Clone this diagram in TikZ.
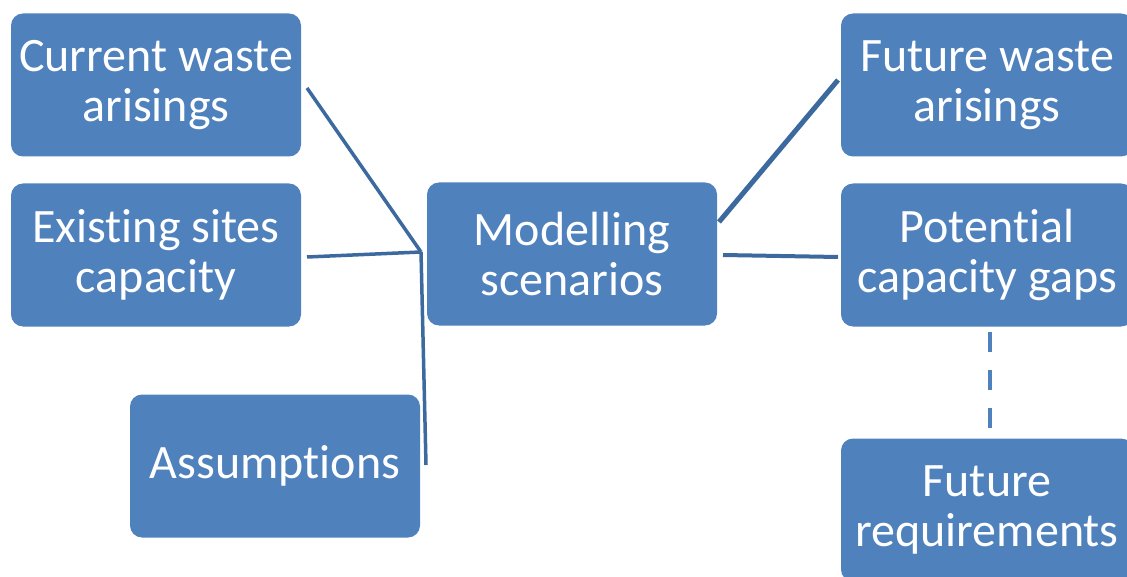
\documentclass[tikz,border=0pt]{standalone}
\usepackage{fontspec}
\setmainfont{Carlito}[Ligatures=NoCommon]
\usetikzlibrary{positioning}
\definecolor{boxblue}{HTML}{4F81BD}
\definecolor{lineblue}{HTML}{3C6A9F}

\begin{document}
\begin{tikzpicture}[x=1pt,y=-1pt,
      box/.style={fill=boxblue, rounded corners=12pt, text=white,
        minimum width=290pt, minimum height=143pt, align=center,
        font=\fontsize{48}{50}\selectfont, inner sep=0pt},
      link/.style={draw=lineblue, line width=3.5pt},
      ]
      \useasboundingbox (0,0) rectangle (1127,577);
      % left side inputs
      \node[box] (cur) at (156,85) {Current waste\\arisings};
      \node[box] (sites) at (156,255) {Existing sites\\capacity};
      \node[box] (assum) at (275,466) {Assumptions};
      % centre
      \node[box] (model) at (572,254) {Modelling\\scenarios};
      % right side outputs
      \node[box, minimum width=292pt] (fut) at (987,85) {Future waste\\arisings};
      \node[box, minimum width=292pt] (gaps) at (987,255) {Potential\\capacity gaps};
      \node[box, minimum width=292pt] (req) at (987,510) {Future\\requirements};
      % connectors
      \coordinate (hub) at (421,252);
      \coordinate (cur-end) at (307,88);
      \coordinate (sites-end) at (307,257);
      \coordinate (assum-end) at (426,465);
      \draw[link] (cur-end) -- (hub);
      \draw[link] (sites-end) -- (hub);
      \draw[link] (hub) -- (assum-end);
      \coordinate (m-top) at (719,222);
      \coordinate (f-end) at (838,80);
      \draw[link, line width=5pt] (m-top) -- (f-end);
      \coordinate (m-mid) at (723,255);
      \coordinate (g-end) at (838,257);
      \draw[link, line width=4pt] (m-mid) -- (g-end);
      \draw[link, draw=boxblue, line width=4pt,
        dash pattern=on 20pt off 18pt, dash phase=32.5pt]
        ([xshift=3pt]gaps.south) -- ([xshift=3pt]req.north);
    \end{tikzpicture}
\end{document}
